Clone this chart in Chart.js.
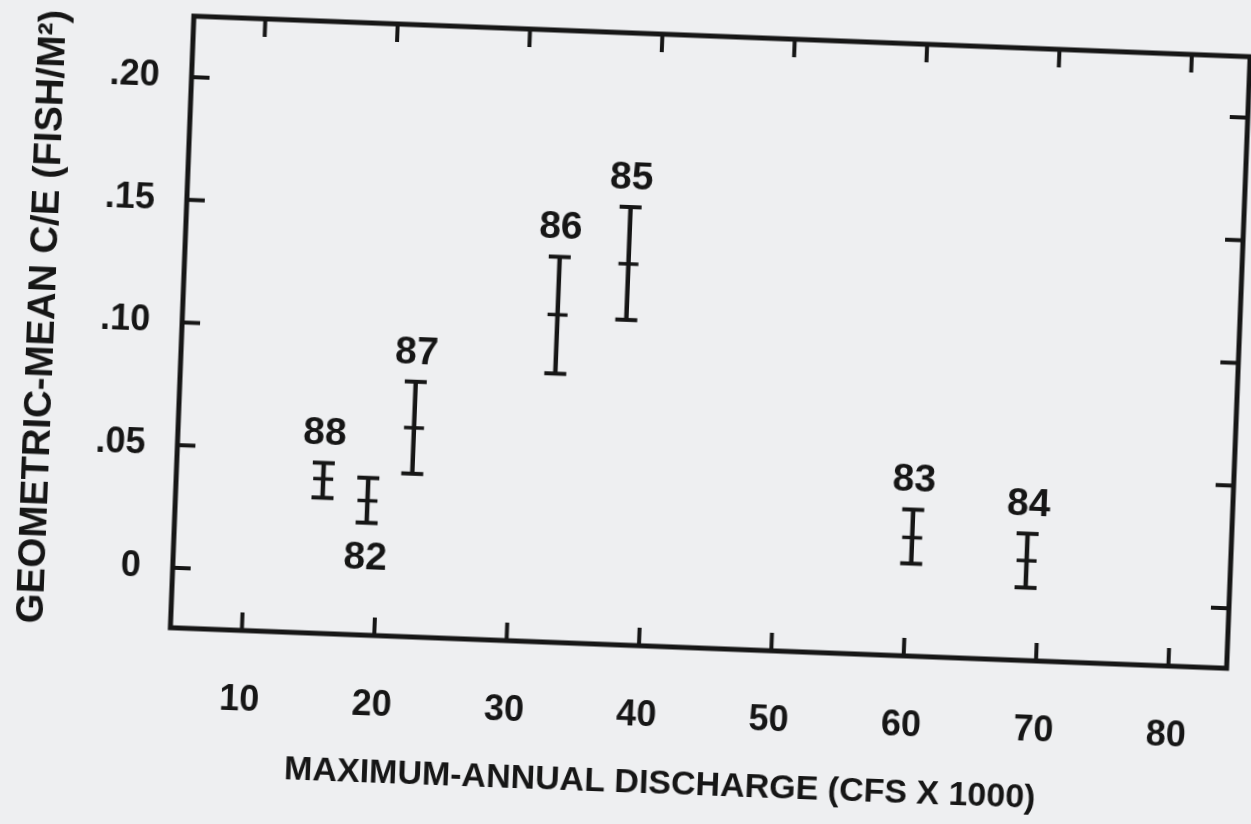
<!DOCTYPE html>
<html>
<head>
<meta charset="utf-8">
<script src="https://cdn.jsdelivr.net/npm/chart.js@4/dist/chart.umd.min.js"></script>
<style>
  html, body { margin: 0; padding: 0; background: #eeeff1; overflow: hidden; }
  /* the printed sheet sits a little skewed on the page */
  #sheet { width: 1251px; height: 824px; transform: rotate(2.2deg); transform-origin: 625px 412px; }
</style>
</head>
<body>
<div id="sheet"><canvas id="ceChart" width="1251" height="824"></canvas></div>
<script>
// sampling years, max annual discharge (cfs x 1000) and C/E with its range
const years     = ['88', '82', '87', '86', '85', '83', '84'];
const discharge = [15.7, 19.1, 22.4, 32.9, 38.1, 60.3, 69.0];
const meanCE    = [0.0385, 0.0303, 0.0607, 0.109, 0.1308, 0.0238, 0.0162];
const upperCE   = [0.045, 0.0396, 0.0795, 0.1326, 0.154, 0.0352, 0.0272];
const lowerCE   = [0.0308, 0.0213, 0.042, 0.085, 0.108, 0.0132, 0.0052];

const xTicks = [10, 20, 30, 40, 50, 60, 70, 80];
const yTicks = [0, 0.05, 0.10, 0.15, 0.20];
const yTickLabels = ['0', '.05', '.10', '.15', '.20'];

const xTitle = 'MAXIMUM-ANNUAL DISCHARGE (CFS X 1000)';
const yTitle = 'GEOMETRIC-MEAN C/E (FISH/M²)';

const ink = '#161616';
const fontFamily = '"Liberation Sans", Arial, sans-serif';

// vertical bar + caps for every year
const rangeSets = discharge.map((x, i) => ({
    label: years[i],
    data: [{x: x, y: lowerCE[i]}, {x: x, y: upperCE[i]}],
    showLine: true,
    borderColor: ink,
    borderWidth: 4.5,
    pointStyle: 'line',
    pointRadius: 11,
    pointBorderWidth: 4,
    pointBorderColor: ink,
    pointBackgroundColor: ink
}));

const meanSet = {
    label: 'mean',
    data: discharge.map((x, i) => ({x: x, y: meanCE[i]})),
    showLine: false,
    pointStyle: 'line',
    pointRadius: 10,
    pointBorderWidth: 3.5,
    pointBorderColor: ink
};

// closed box with inward tick marks on all four sides
const framePlugin = {
    id: 'frame',
    afterDraw(chart) {
        const {ctx, chartArea: a, scales} = chart;
        const len = 18;
        ctx.save();
        ctx.strokeStyle = ink;
        ctx.lineWidth = 5;
        ctx.lineJoin = 'miter';
        ctx.strokeRect(a.left, a.top, a.right - a.left, a.bottom - a.top);
        ctx.lineWidth = 4;
        ctx.beginPath();
        xTicks.forEach(v => {
            const px = scales.x.getPixelForValue(v);
            ctx.moveTo(px, a.bottom); ctx.lineTo(px, a.bottom - len);
            ctx.moveTo(px, a.top); ctx.lineTo(px, a.top + len);
        });
        yTicks.forEach(v => {
            const py = scales.y.getPixelForValue(v);
            ctx.moveTo(a.left, py); ctx.lineTo(a.left + len, py);
            ctx.moveTo(a.right, py); ctx.lineTo(a.right - len, py);
        });
        ctx.stroke();

        // x axis caption, set a bit left of the box centre
        ctx.fillStyle = ink;
        ctx.font = 'bold 34px ' + fontFamily;
        ctx.textAlign = 'center';
        ctx.textBaseline = 'middle';
        ctx.fillText(xTitle, a.left + 495, a.bottom + 138);
        ctx.restore();
    }
};

// year tags over (or under) each bar
const labelsBelow = ['82'];
const yearPlugin = {
    id: 'yearTags',
    afterDatasetsDraw(chart) {
        const {ctx, scales} = chart;
        ctx.save();
        ctx.fillStyle = ink;
        ctx.font = 'bold 39px ' + fontFamily;
        ctx.textAlign = 'center';
        ctx.textBaseline = 'middle';
        years.forEach((yr, i) => {
            const px = scales.x.getPixelForValue(discharge[i]);
            let py;
            if (labelsBelow.includes(yr)) {
                py = scales.y.getPixelForValue(lowerCE[i]) + 36;
            } else {
                py = scales.y.getPixelForValue(upperCE[i]) - 29;
            }
            ctx.fillText(yr, px, py);
        });
        ctx.restore();
    }
};

new Chart(document.getElementById('ceChart'), {
    type: 'scatter',
    data: { datasets: [...rangeSets, meanSet] },
    options: {
        responsive: false,
        animation: false,
        layout: { padding: { top: 33, right: 9, left: 0, bottom: 0 } },
        plugins: {
            legend: { display: false },
            tooltip: { enabled: false }
        },
        scales: {
            x: {
                type: 'linear',
                min: 4.6,
                max: 84.4,
                afterBuildTicks: s => { s.ticks = xTicks.map(v => ({value: v})); },
                afterFit: s => {
                    s.height = 179;
                    s.paddingLeft = 0;
                    s.paddingRight = 0;
                },
                grid: { display: false, drawTicks: false },
                border: { display: false },
                ticks: {
                    color: ink,
                    padding: 48,
                    font: { family: fontFamily, size: 36, weight: 'bold' },
                    callback: v => String(v)
                },
                title: { display: false }
            },
            y: {
                type: 'linear',
                min: -0.0245,
                max: 0.2249,
                afterBuildTicks: s => { s.ticks = yTicks.map(v => ({value: v})); },
                afterFit: s => {
                    s.width = 179;
                    s.paddingTop = 0;
                    s.paddingBottom = 0;
                },
                grid: { display: false, drawTicks: false },
                border: { display: false },
                ticks: {
                    color: ink,
                    padding: 32,
                    font: { family: fontFamily, size: 36, weight: 'bold' },
                    callback: v => yTickLabels[yTicks.indexOf(v)]
                },
                title: {
                    display: true,
                    text: yTitle,
                    color: ink,
                    font: { family: fontFamily, size: 38.5, weight: 'bold' },
                    padding: { top: 17, bottom: 0 }
                }
            }
        }
    },
    plugins: [framePlugin, yearPlugin]
});
</script>
</body>
</html>
